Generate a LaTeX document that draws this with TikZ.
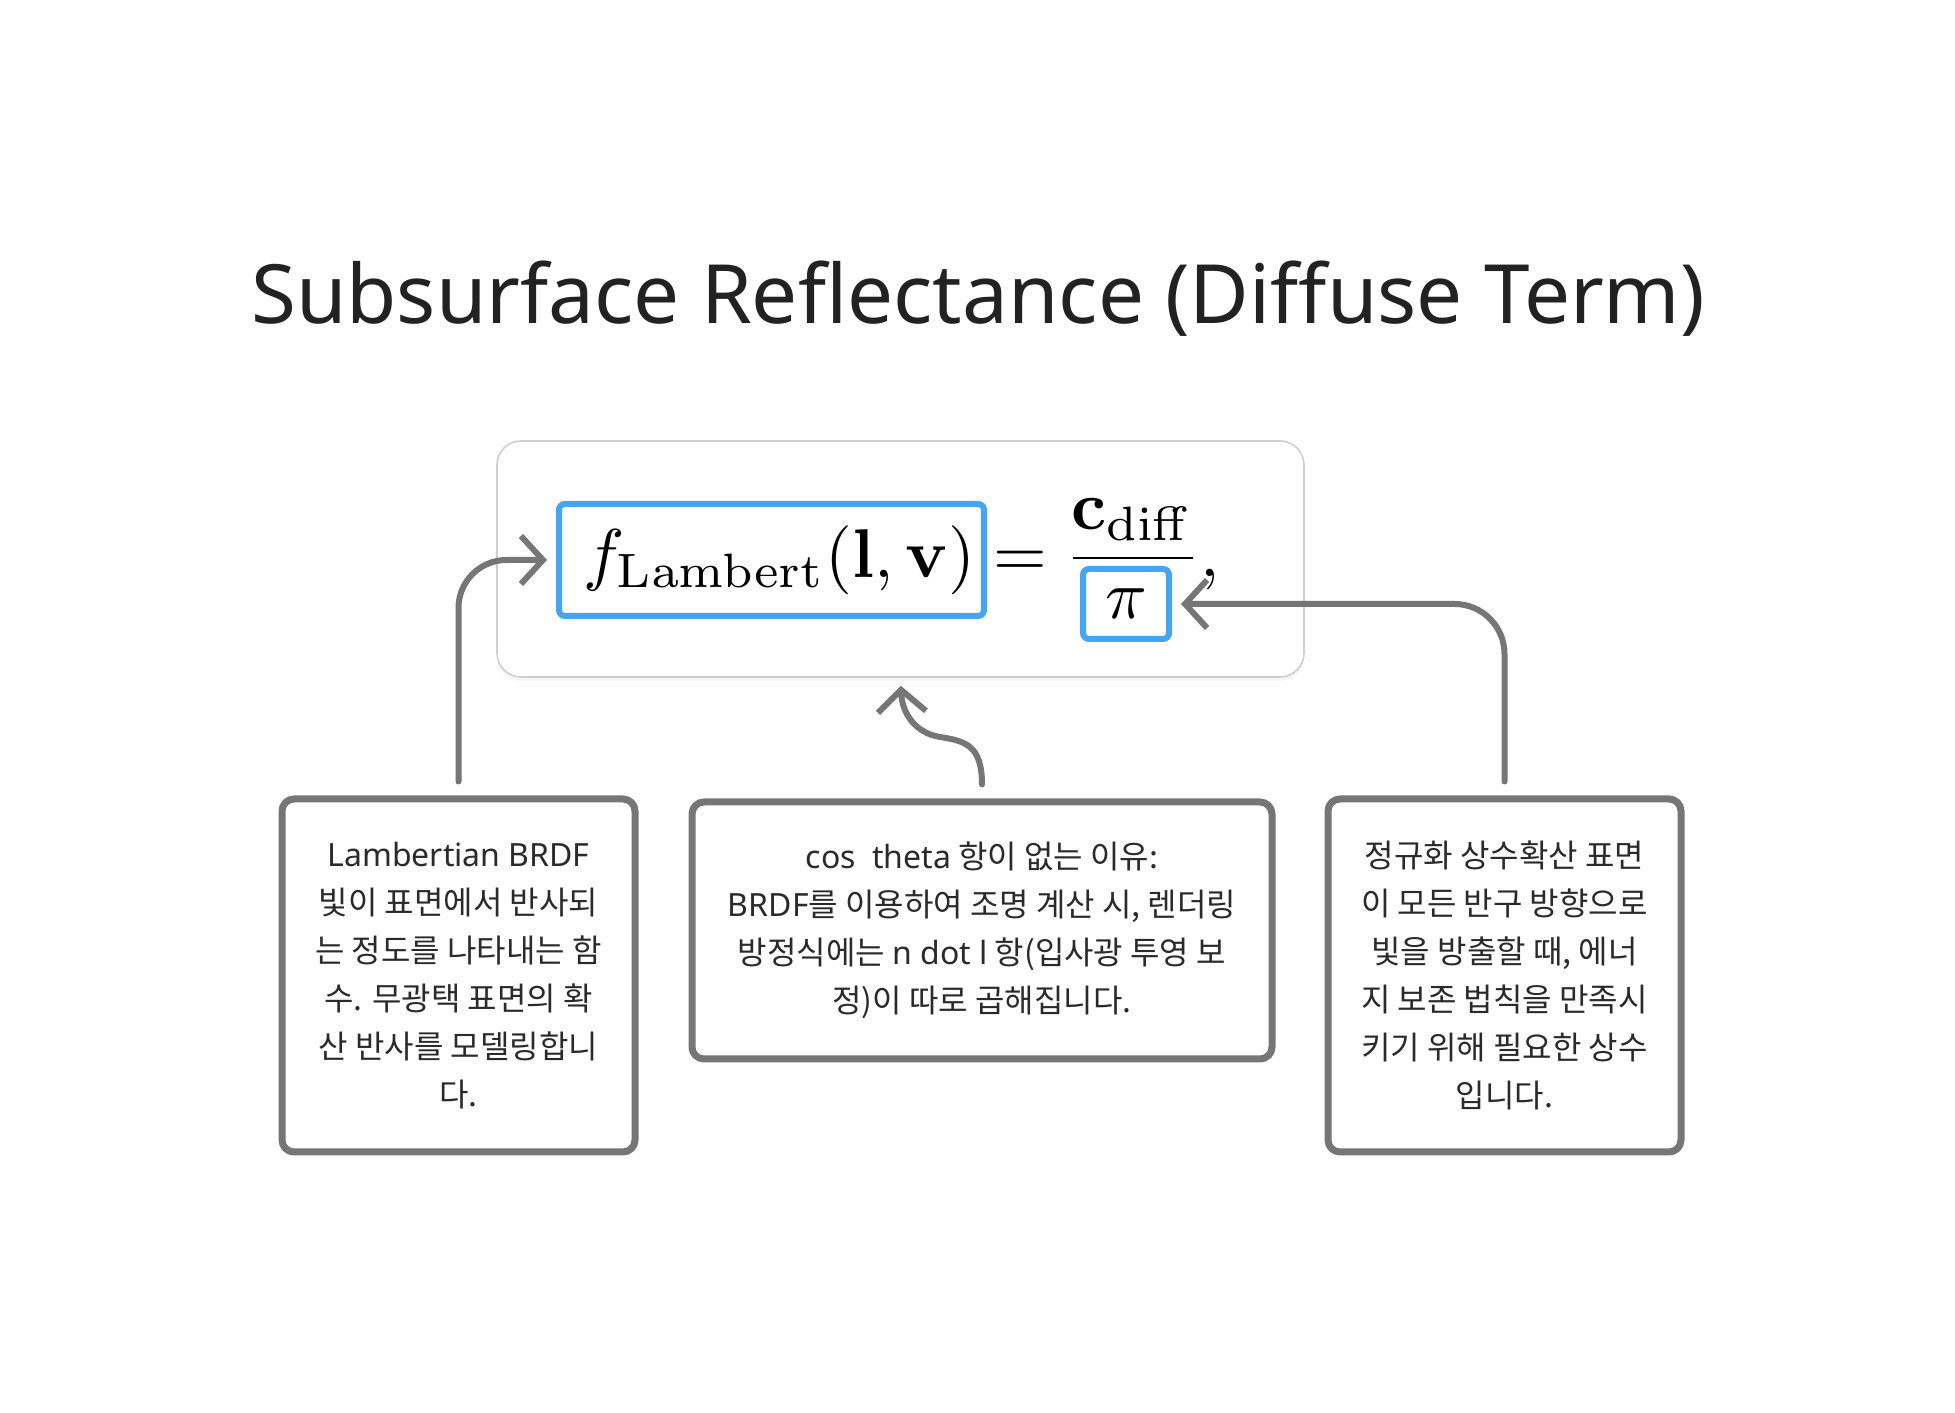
\documentclass[tikz,border=0pt]{standalone}
\usepackage[no-math]{fontspec}
\usepackage{amsmath}
\usepackage{graphicx}
\usetikzlibrary{arrows.meta,shadows}
\newfontfamily\krfont{Noto Sans CJK KR}
\newfontfamily\latfont{Noto Sans}
\newfontfamily\titlefont{Noto Sans}
\definecolor{titlecol}{HTML}{222222}
\definecolor{txtcol}{HTML}{2A2A2A}
\definecolor{edgecol}{HTML}{767676}
\definecolor{hlblue}{HTML}{42A5F5}
\definecolor{framegray}{HTML}{CFCFCF}
\newcommand{\mscale}[1]{\scalebox{3.45}{#1}}
\begin{document}
\begin{tikzpicture}[x=0.5pt,y=0.5pt,
 notebox/.style={draw=edgecol, line width=3.5pt, rounded corners=6pt, fill=white, align=center, text=txtcol, font=\krfont\fontsize{16}{24}\selectfont, inner sep=0pt},
 hlbox/.style={draw=hlblue, line width=3pt, rounded corners=3pt, inner sep=0pt},
 conn/.style={draw=edgecol, line width=3pt, line cap=round, line join=round, -{Straight Barb[length=11pt,width=24pt]}},
 mathpart/.style={anchor=base, inner sep=0pt}
]
\fill[white] (0,0) rectangle (1955,1413);
\useasboundingbox (0,0) rectangle (1955,1413);
\node[anchor=base, text=titlecol, font=\titlefont\fontsize{40.9}{48}\selectfont] (title) at (978,1089) {Subsurface Reflectance (Diffuse Term)};
\node[draw=framegray, line width=0.8pt, fill=white, rounded corners=12pt, minimum width=403.5pt, minimum height=118pt, drop shadow={opacity=0.08, shadow xshift=0pt, shadow yshift=-2pt}] (fbox) at (900.5,854) {};
\node[hlbox, minimum width=212.5pt, minimum height=56pt] (fL) at (771.5,853) {\hspace*{7.5pt}\mscale{$f_{\mathrm{Lambert}}(\mathbf{l},\mathbf{v})$}};
\node[mathpart] (eq) at (1020,836) {\mscale{$=$}};
\node[mathpart] (num) at (1132,883) {\mscale{$\mathbf{c}_{\mathrm{diff}}$}};
\coordinate (barL) at (1073,855);
\coordinate (barR) at (1193,855);
\draw[line width=1.4pt] (barL) -- (barR);
\node[hlbox, minimum width=43pt, minimum height=35pt] (pi) at (1126,809) {\mscale{$\pi$}};
\node[mathpart] (comma) at (1210,836) {\mscale{$,$}};

\node[notebox, minimum width=176.5pt, minimum height=176.5pt] (lnote) at (458.5,437.5) {{\latfont Lambertian BRDF}\\빛이 표면에서 반사되\\는 정도를 나타내는 함\\수. 무광택 표면의 확\\산 반사를 모델링합니\\다.};
\node[notebox, minimum width=290pt, minimum height=128.5pt] (mnote) at (982,482.5) {{\latfont cos\ \ theta} 항이 없는 이유:\\{\latfont BRDF}를 이용하여 조명 계산 시, 렌더링\\방정식에는 {\latfont n dot l} 항(입사광 투영 보\\정)이 따로 곱해집니다.};
\node[notebox, minimum width=176.5pt, minimum height=176.5pt] (rnote) at (1504.5,437.5) {정규화 상수확산 표면\\이 모든 반구 방향으로\\빛을 방출할 때, 에너\\지 보존 법칙을 만족시\\키기 위해 필요한 상수\\입니다.};

\draw[conn, shorten <=7pt, shorten >=4.5pt, rounded corners=24pt] (lnote.north) |- (fL.west);
\draw[conn, shorten <=7pt, shorten >=4.5pt, rounded corners=25pt] (rnote.north) |- (pi.east);
\draw[conn, shorten <=7pt, shorten >=4pt] (mnote.north) .. controls (982,668) and (965,672) .. (940,676) .. controls (915,680) and (902,700) .. (fbox.south);
\end{tikzpicture}
\end{document}
